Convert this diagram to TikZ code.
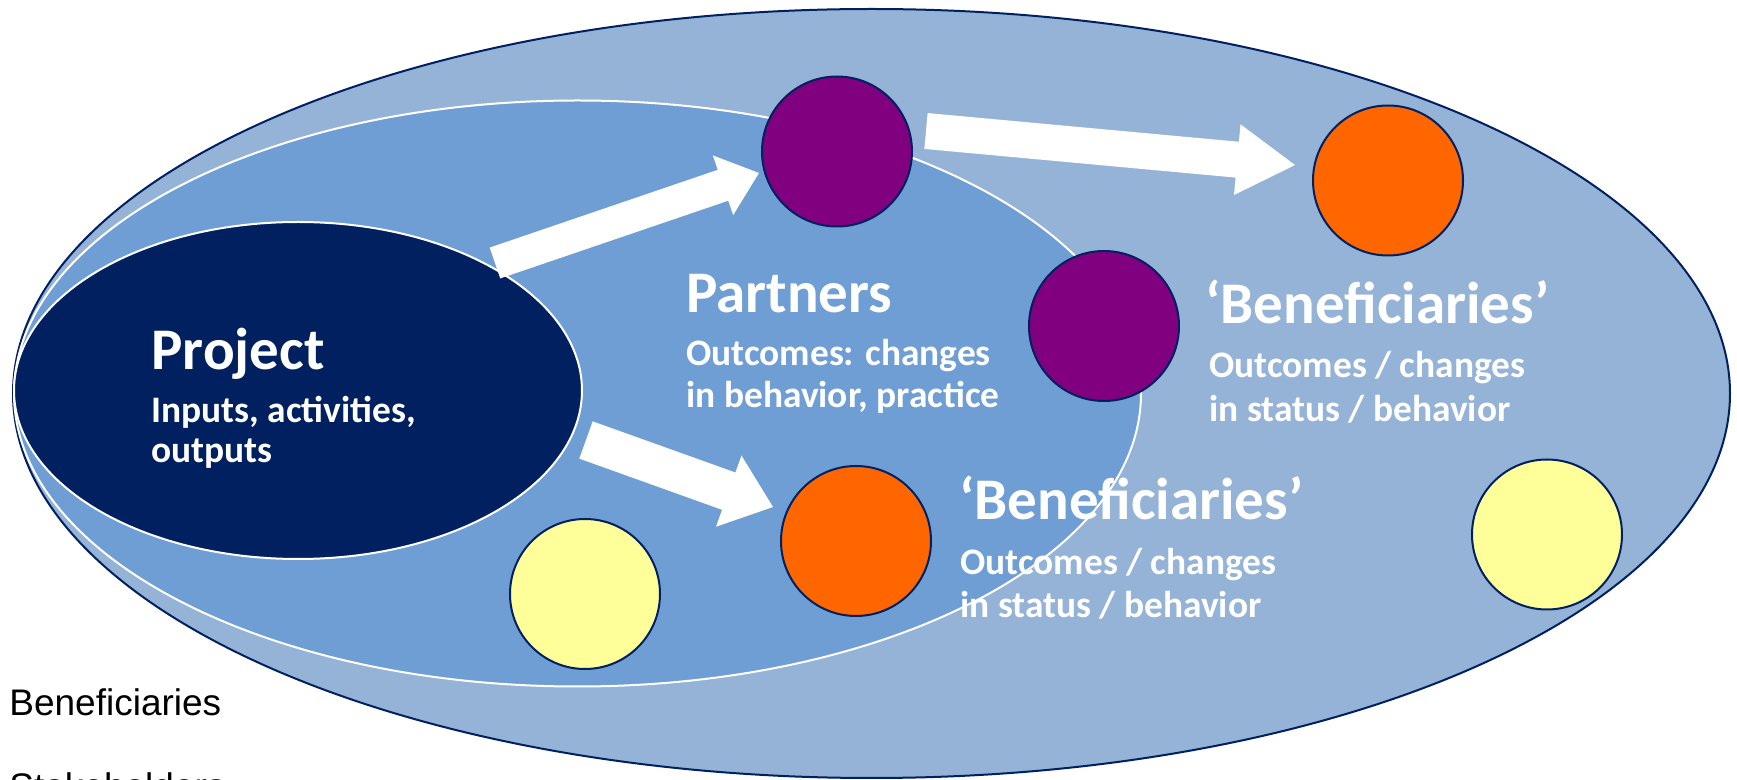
\documentclass[tikz,border=0pt]{standalone}
\usepackage{fontspec}
\setmainfont{Carlito}
\newfontfamily\arialfont{Liberation Sans}
\usetikzlibrary{calc}
\definecolor{outerblue}{HTML}{95B3D7}
\definecolor{midblue}{HTML}{6F9ED4}
\definecolor{navy}{HTML}{002060}
\definecolor{cpurple}{HTML}{800080}
\definecolor{corange}{HTML}{FF6600}
\definecolor{cyellow}{HTML}{FFFF99}
\tikzset{
  ring/.style={fill=outerblue, draw=navy, line width=1pt},
  midring/.style={fill=midblue, draw=white, line width=1pt},
  projring/.style={fill=navy, draw=white, line width=1pt},
  dot/.style={circle, draw=navy, line width=1pt, minimum size=75pt, inner sep=0pt},
  title/.style={anchor=base west, text=white, font=\bfseries\fontsize{29.5}{34}\selectfont, inner sep=0pt},
  sub/.style={anchor=base west, text=white, font=\bfseries\fontsize{18.7}{22}\selectfont, inner sep=0pt},
  plain/.style={anchor=base west, text=black, font=\arialfont\fontsize{18.5}{22}\selectfont, inner sep=0pt},
  blockarrow/.style={fill=white, draw=none}
}
\newcommand{\blockarr}[5]{% tail, tip, half shaft, half head, head length
  \path ($(#2)!#5!(#1)$) coordinate (#1neck);
  \fill[blockarrow] ($(#1)!#3!90:(#2)$) -- ($(#1neck)!#3!90:(#2)$) -- ($(#1neck)!#4!90:(#2)$) -- (#2)
    -- ($(#1neck)!#4!-90:(#2)$) -- ($(#1neck)!#3!-90:(#2)$) -- ($(#1)!#3!-90:(#2)$) -- cycle;
}
\begin{document}
\begin{tikzpicture}[x=0.5pt,y=-0.5pt]
\useasboundingbox (0,0) rectangle (1737,780);
% ellipses
\path[ring] (871.5,393.5) ellipse [x radius=858.5, y radius=384.5];
\path[midring] (577.5,393.5) ellipse [x radius=563.5, y radius=293];
\path[projring] (298,390.5) ellipse [x radius=284, y radius=168.5];
% arrow end points
\coordinate (a1t) at (495,263);
\coordinate (a1p) at (759,173);
\coordinate (a2t) at (926,131);
\coordinate (a2p) at (1295,165);
\coordinate (a3t) at (586,440);
\coordinate (a3p) at (773,507);
\blockarr{a1t}{a1p}{8.15pt}{15.75pt}{19pt}
\blockarr{a2t}{a2p}{9pt}{17.75pt}{29pt}
\blockarr{a3t}{a3p}{9.9pt}{18.9pt}{23.5pt}
% circles
\node[dot, fill=cpurple] (p1) at (837,151.5) {};
\node[dot, fill=corange] (o1) at (1388,180.5) {};
\node[dot, fill=cpurple] (p2) at (1104,326) {};
\node[dot, fill=corange] (o2) at (856,541) {};
\node[dot, fill=cyellow] (y1) at (585,594) {};
\node[dot, fill=cyellow] (y2) at (1547,534.5) {};
% texts
\node[title] (tproj) at (151,370) {Project};
\node[sub] (tproj1) at (151,423) {Inputs, activities,};
\node[sub] (tproj2) at (151,463) {outputs};
\node[title] (tpart) at (686,313) {Partners};
\node[sub] (tpart1) at (686,366) {Outcomes: changes};
\node[sub] (tpart2) at (686,408) {in behavior, practice};
\node[title] (tben1) at (1205,324) {‘Beneficiaries’};
\node[sub] (tben11) at (1209,378) {Outcomes / changes};
\node[sub] (tben12) at (1209,422) {in status / behavior};
\node[title] (tben2) at (959,520) {‘Beneficiaries’};
\node[sub] (tben21) at (960,575) {Outcomes / changes};
\node[sub] (tben22) at (960,618) {in status / behavior};
\node[plain] (lben) at (9,716) {Beneficiaries};
\node[plain] (lstake) at (9,799) {Stakeholders};
\end{tikzpicture}
\end{document}
